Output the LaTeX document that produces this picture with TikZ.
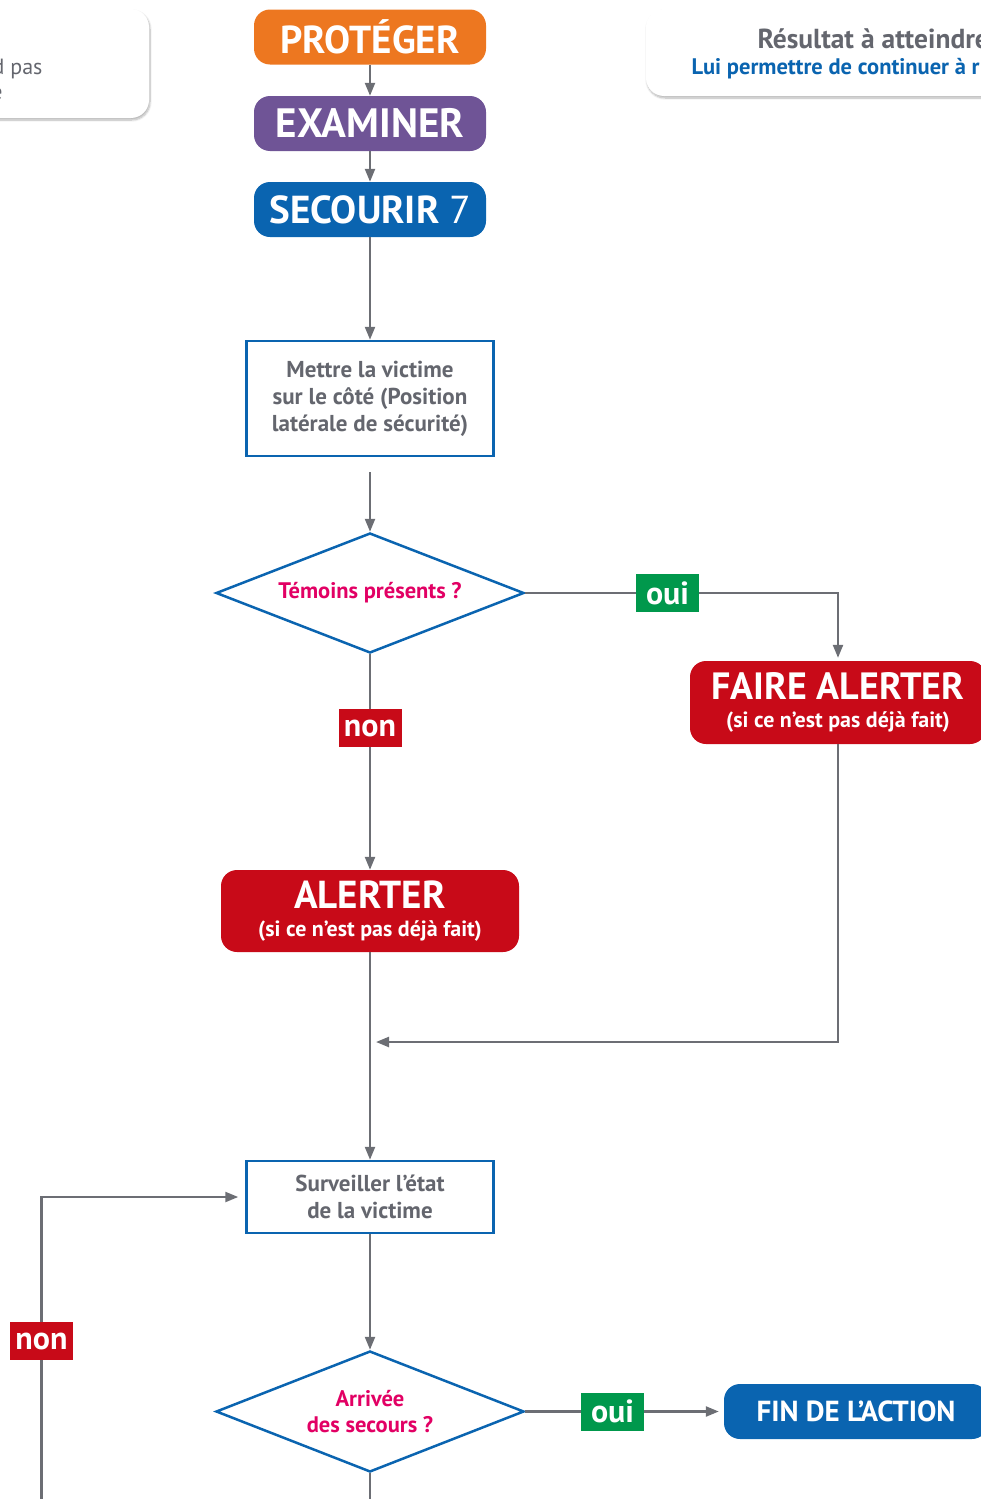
\documentclass[tikz,border=0pt]{standalone}
\usepackage{fontspec}
\setmainfont{PT Sans}
\usetikzlibrary{arrows.meta,shapes.geometric,shadows.blur}
\usepackage{xcolor}
\definecolor{orangeP}{RGB}{237,119,32}
\definecolor{purpleE}{RGB}{111,84,150}
\definecolor{blueS}{RGB}{10,100,176}
\definecolor{redA}{RGB}{200,10,24}
\definecolor{greenT}{RGB}{0,152,76}
\definecolor{lineG}{RGB}{108,110,116}
\definecolor{textG}{RGB}{100,102,110}
\definecolor{magT}{RGB}{226,0,100}

\begin{document}
\begin{tikzpicture}[x=1pt,y=-1pt,
  line/.style={draw=lineG,line width=2.3pt},
  arr/.style={line,-{Triangle[length=13pt,width=10pt]}},
  title/.style={rounded corners=16pt,text=white,inner sep=0pt,
    font=\bfseries\fontsize{39}{39}\selectfont,minimum width=232pt,minimum height=55pt},
  alarm/.style={fill=redA,rounded corners=16pt,text=white,align=center,inner sep=0pt,
    font=\bfseries\fontsize{22}{28}\selectfont},
  stepbox/.style={draw=blueS,line width=2.5pt,fill=white,text=textG,align=center,
    inner sep=0pt,font=\bfseries\fontsize{23}{27}\selectfont},
  test/.style={diamond,aspect=2.5,draw=blueS,line width=2.5pt,fill=white,text=magT,
    align=center,inner sep=0pt,minimum width=308pt,minimum height=120pt,
    font=\bfseries\fontsize{22.5}{26}\selectfont},
  tag/.style={text=white,inner sep=0pt,minimum width=63pt,minimum height=38pt,
    font=\bfseries\fontsize{32}{32}\selectfont},
  panel/.style={fill=white,rounded corners=18pt,
    blur shadow={shadow xshift=1pt,shadow yshift=-2pt,shadow blur steps=8,shadow opacity=30}}
]
\useasboundingbox (0,0) rectangle (981,1499);
\clip (0,0) rectangle (981,1499);

% panels at the top
\node[panel,minimum width=259pt,minimum height=109pt] (goalL) at (19.5,63.5) {};
\node[anchor=base east,text=textG,font=\fontsize{22}{22}\selectfont] (goalLa) at (46,74) {d pas};
\node[anchor=base east,text=textG,font=\fontsize{22}{22}\selectfont] (goalLb) at (6,99) {e};
\node[panel,minimum width=474pt,minimum height=87pt] (goalR) at (883,52.5) {};
\node[anchor=base west,text=textG,font=\bfseries\fontsize{27.5}{27.5}\selectfont] (goalRa) at (754,48) {Résultat à atteindre};
\node[anchor=base west,text=blueS,font=\bfseries\fontsize{22.5}{22.5}\selectfont] (goalRb) at (688,74) {Lui permettre de continuer à r};

% main steps
\foreach \nm/\y/\col/\txt in {proteger/37/orangeP/PROTÉGER,
    examiner/123.5/purpleE/{\fontsize{41}{41}\selectfont EXAMINER},
    secourir/209.5/blueS/{SECOURIR {\mdseries 7}}}
  \node[title,fill=\col] (\nm) at (370,\y) {\txt};

\node[stepbox,minimum width=247pt,minimum height=115pt] (mettre) at (370,398.5)
  {Mettre la victime\\sur le côté (Position\\latérale de sécurité)};
\node[test] (temoins) at (370,593) {Témoins présents ?};
\node[tag,fill=greenT] (oui1) at (667.5,593) {oui};
\node[alarm,minimum width=296pt,minimum height=83pt] (faire) at (838,702.5)
  {{\fontsize{38}{38}\selectfont FAIRE ALERTER}\\(si ce n’est pas déjà fait)};
\node[tag,fill=redA] (non1) at (370,728) {non};
\node[alarm,minimum width=298pt,minimum height=82pt] (alerter) at (370,911)
  {{\fontsize{39}{39}\selectfont ALERTER}\\(si ce n’est pas déjà fait)};
\node[stepbox,minimum width=247pt,minimum height=72pt] (surveiller) at (370,1197)
  {Surveiller l’état\\de la victime};
\node[test,minimum height=121pt] (arrivee) at (370,1411.5) {Arrivée\\des secours ?};
\node[tag,fill=greenT] (oui2) at (612.5,1411.5) {oui};
\node[title,fill=blueS,minimum width=264pt,font=\bfseries\fontsize{29}{29}\selectfont] (fin) at (856,1411.5) {FIN DE L’ACTION};
\node[tag,fill=redA] (non2) at (41.5,1341) {non};

% connectors
\foreach \a/\b in {proteger/examiner,examiner/secourir,secourir/mettre}
  \draw[arr] (\a) -- (\b);
\draw[arr,shorten <=15pt] (mettre) -- (temoins);
\draw[line] (temoins.east) -- (oui1.west);
\draw[arr,shorten >=3pt] (oui1.east) -| (faire.north);
\draw[line] (temoins.south) -- (non1.north);
\draw[arr] (non1.south) -- (alerter.north);
\coordinate (merge) at (376,1042);
\draw[arr] (faire.south) |- (merge);
\draw[arr] (alerter.south) -- (surveiller.north);
\draw[arr] (surveiller.south) -- (arrivee.north);
\draw[line] (arrivee.east) -- (oui2.west);
\draw[arr,shorten >=5pt] (oui2.east) -- (fin.west);
\coordinate (suite) at (370,1510);
\draw[line] (arrivee.south) -- (suite);
\coordinate (retour) at (41.5,1510);
\draw[line] (retour) -- (non2.south);
\draw[arr,shorten >=7pt] (non2.north) |- (surveiller.west);
\end{tikzpicture}
\end{document}
